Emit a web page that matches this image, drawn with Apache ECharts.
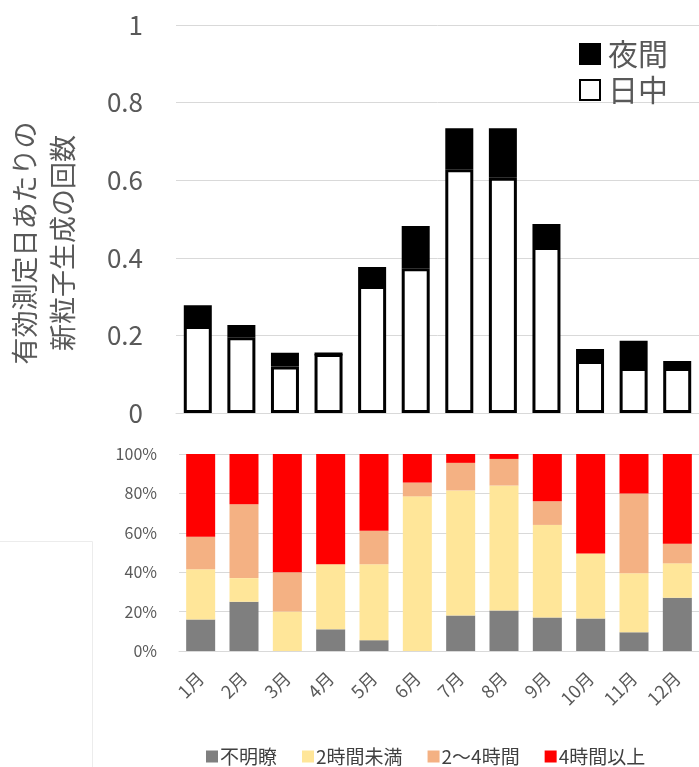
<!DOCTYPE html>
<html>
<head>
<meta charset="utf-8">
<script src="https://cdn.jsdelivr.net/npm/echarts@6/dist/echarts.min.js"></script>
<style>
  html, body { margin: 0; padding: 0; background: #fff; }
  #chart { width: 699px; height: 767px; }
</style>
</head>
<body>
<div id="chart"></div>
<script>
// Months shared by both panels
const months = ['1月', '2月', '3月', '4月', '5月', '6月', '7月', '8月', '9月', '10月', '11月', '12月'];

// Upper panel: events per valid measurement day
const daytime = [0.224, 0.195, 0.120, 0.152, 0.327, 0.373, 0.628, 0.606, 0.428, 0.134, 0.116, 0.116];
const nighttime = [0.054, 0.032, 0.035, 0, 0.049, 0.109, 0.106, 0.128, 0.059, 0.031, 0.070, 0.018];

// Lower panel: share of events by duration (%)
const unclear = [16, 25, 0, 11, 5.5, 0, 18, 20.5, 17, 16.5, 9.5, 27];
const under2h = [25.5, 12, 20, 33, 38.5, 78.5, 63.5, 63.5, 47, 33, 30, 17.5];
const from2to4h = [16.5, 37.5, 20, 0, 17, 7, 14, 13.5, 12, 0, 40.5, 10];
const over4h = [42, 25.5, 60, 56, 39, 14.5, 4.5, 2.5, 24, 50.5, 20, 45.5];

const yTicksTop = [0, 0.2, 0.4, 0.6, 0.8, 1];
const pctTicks = [0, 20, 40, 60, 80, 100];

const FONT = '"Noto Sans CJK JP", "Noto Sans", sans-serif';
const TXT = '#595959';
const GRID = '#d9d9d9';

const chart = echarts.init(document.getElementById('chart'), null, { renderer: 'canvas' });

chart.setOption({
  animation: false,
  backgroundColor: '#fff',
  textStyle: { fontFamily: FONT },
  grid: [
    { left: 176, top: 25, width: 526, height: 388 },
    { left: 179, top: 454, width: 526, height: 197 }
  ],
  legend: [
    {
      data: ['夜間', '日中'],
      orient: 'vertical',
      icon: 'rect',
      left: 574,
      top: 34,
      itemWidth: 20,
      itemHeight: 20,
      itemGap: 6,
      textStyle: { fontSize: 30, color: TXT, fontFamily: FONT, padding: [0, 0, 0, 3] }
    },
    {
      data: ['不明瞭', '2時間未満', '2～4時間', '4時間以上'],
      icon: 'rect',
      left: 201,
      top: 742,
      itemWidth: 12,
      itemHeight: 12,
      itemGap: 25,
      textStyle: { fontSize: 19, color: '#404040', fontFamily: FONT, padding: [0, 0, 0, -3] }
    }
  ],
  xAxis: [
    {
      type: 'category', gridIndex: 0, data: months,
      axisLine: { show: true, lineStyle: { color: GRID } },
      axisTick: { show: false },
      axisLabel: { show: false }
    },
    {
      type: 'category', gridIndex: 1, data: months,
      axisLine: { show: true, lineStyle: { color: GRID } },
      axisTick: { show: false },
      axisLabel: { rotate: 45, fontSize: 18, color: TXT, margin: 24, fontFamily: FONT }
    }
  ],
  yAxis: [
    {
      type: 'value', gridIndex: 0,
      min: yTicksTop[0], max: yTicksTop[yTicksTop.length - 1], interval: 0.2,
      axisLine: { show: false }, axisTick: { show: false },
      splitLine: { lineStyle: { color: GRID, width: 1 } },
      axisLabel: { fontSize: 26, color: TXT, margin: 33, fontFamily: FONT }
    },
    {
      type: 'value', gridIndex: 1,
      min: pctTicks[0], max: pctTicks[pctTicks.length - 1], interval: 20,
      axisLine: { show: false }, axisTick: { show: false },
      splitLine: { lineStyle: { color: GRID, width: 1 } },
      axisLabel: { fontSize: 16, color: TXT, margin: 22, formatter: '{value}%', fontFamily: FONT }
    }
  ],
  series: [
    {
      name: '日中', type: 'bar', stack: 'top', xAxisIndex: 0, yAxisIndex: 0,
      data: daytime, barWidth: 28,
      itemStyle: { color: '#fff', borderColor: '#000', borderWidth: 3 }
    },
    {
      name: '夜間', type: 'bar', stack: 'top', xAxisIndex: 0, yAxisIndex: 0,
      data: nighttime, barWidth: 28,
      itemStyle: { color: '#000', borderColor: '#000', borderWidth: 3 }
    },
    {
      name: '不明瞭', type: 'bar', stack: 'pct', xAxisIndex: 1, yAxisIndex: 1,
      data: unclear, barWidth: 29, itemStyle: { color: '#7f7f7f' }
    },
    {
      name: '2時間未満', type: 'bar', stack: 'pct', xAxisIndex: 1, yAxisIndex: 1,
      data: under2h, barWidth: 29, itemStyle: { color: '#ffe699' }
    },
    {
      name: '2～4時間', type: 'bar', stack: 'pct', xAxisIndex: 1, yAxisIndex: 1,
      data: from2to4h, barWidth: 29, itemStyle: { color: '#f4b183' }
    },
    {
      name: '4時間以上', type: 'bar', stack: 'pct', xAxisIndex: 1, yAxisIndex: 1,
      data: over4h, barWidth: 29, itemStyle: { color: '#ff0000' }
    }
  ],
  graphic: [
    {
      // upper panel axis title, two lines
      type: 'text',
      x: 44, y: 243,
      rotation: Math.PI / 2,
      style: {
        text: '有効測定日あたりの\n新粒子生成の回数',
        font: '27px ' + FONT,
        fill: TXT,
        align: 'center',
        verticalAlign: 'middle',
        lineHeight: 38
      }
    },
    {
      type: 'polyline',
      shape: { points: [[0, 541.5], [92.5, 541.5], [92.5, 767]] },
      style: { stroke: '#ececec', lineWidth: 1, fill: null }
    }
  ]
});
</script>
</body>
</html>
